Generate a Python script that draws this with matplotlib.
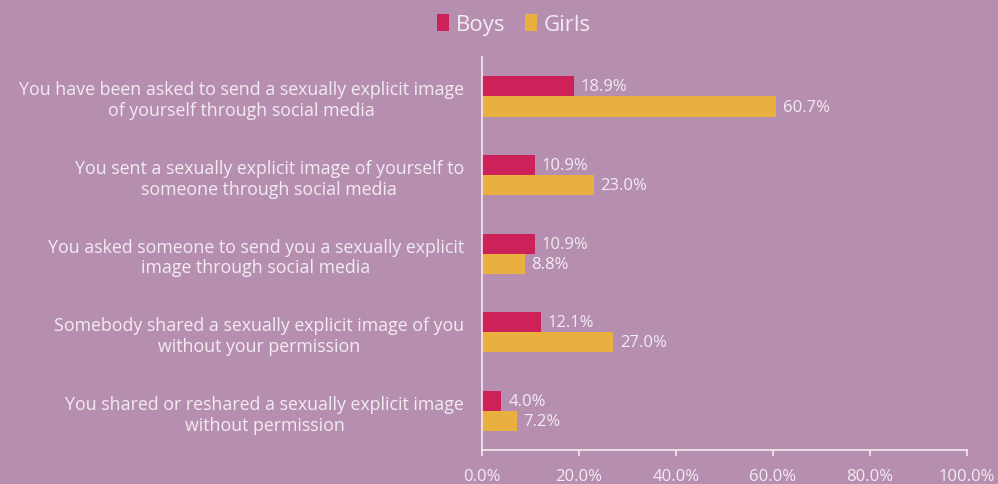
import matplotlib.pyplot as plt
import numpy as np

questions = [
    "You have been asked to send a sexually explicit image\nof yourself through social media",
    "You sent a sexually explicit image of yourself to\nsomeone through social media",
    "You asked someone to send you a sexually explicit\nimage through social media",
    "Somebody shared a sexually explicit image of you\nwithout your permission",
    "You shared or reshared a sexually explicit image\nwithout permission",
]
boys = [18.9, 10.9, 10.9, 12.1, 4.0]
girls = [60.7, 23.0, 8.8, 27.0, 7.2]

bg = "#b68fb0"
txt = "#f3ebf2"
c_boys = "#cc2159"
c_girls = "#eab03f"

plt.rcParams['font.family'] = ['Open Sans', 'DejaVu Sans']

fig = plt.figure(figsize=(9.98, 4.85), dpi=100, facecolor=bg)
ax = fig.add_axes([0.483, 0.070, 0.486, 0.810], facecolor=bg)

y = np.arange(len(questions))
h = 0.255
b1 = ax.barh(y - h / 2, boys, height=h, color=c_boys, label="Boys")
b2 = ax.barh(y + h / 2, girls, height=h, color=c_girls, label="Girls")

for bars, vals in ((b1, boys), (b2, girls)):
    for r, v in zip(bars, vals):
        ax.text(v + 1.4, r.get_y() + r.get_height() / 2, f"{v:.1f}%",
                va="center", ha="left", color=txt, fontsize=12)

ax.set_xlim(0, 100)
ax.set_ylim(len(questions) - 0.5, -0.5)
ax.set_xticks(np.arange(0, 101, 20))
ax.set_xticklabels([f"{t:.1f}%" for t in range(0, 101, 20)], color=txt, fontsize=12)
ax.set_yticks(y)
ax.set_yticklabels(questions, color=txt, fontsize=12.8)
for lab in ax.get_yticklabels():
    lab.set_multialignment("center")

for s in ("top", "right"):
    ax.spines[s].set_visible(False)
for s in ("left", "bottom"):
    ax.spines[s].set_color(txt)
    ax.spines[s].set_linewidth(1.2)
ax.tick_params(axis="y", length=0, pad=13)
ax.tick_params(axis="x", colors=txt, length=4, width=1.2, pad=9)

fig.legend(handles=[b1, b2], loc="center", bbox_to_anchor=(0.515, 0.948), ncol=2,
           frameon=False, fontsize=16, labelcolor=txt, handlelength=0.55,
           handleheight=0.8, handletextpad=0.3, columnspacing=0.9)

fig.savefig("out.png", dpi=100, facecolor=bg)
